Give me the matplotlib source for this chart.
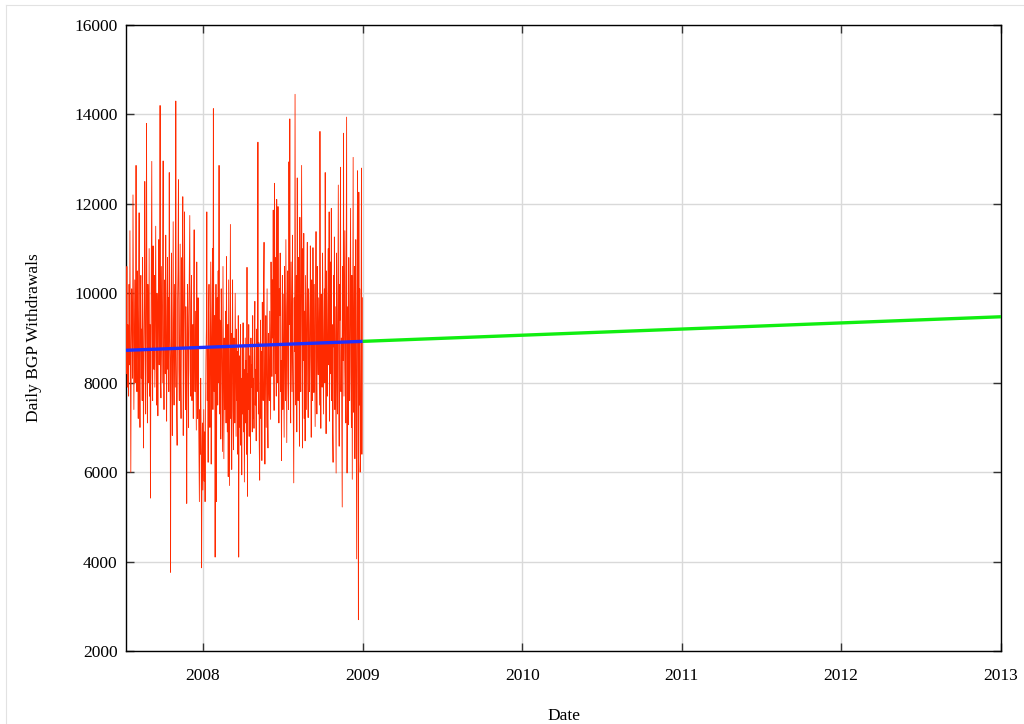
import matplotlib
matplotlib.use("Agg")
import matplotlib.pyplot as plt
from matplotlib.lines import Line2D
import pandas as pd

# Daily BGP withdrawal counts, one value per day starting 2007-07-09
start_date = "2007-07-09"
withdrawals = [
    9800, 8200, 10600, 7900, 9300, 8600, 7700,
    10200, 8400, 11400, 9000, 6000, 8800, 10100,
    9500, 8100, 12200, 9700, 7400, 8900, 10300,
    8000, 9400, 12860, 8700, 7800, 10500, 9100,
    7200, 9900, 11800, 8300, 7000, 9600, 10400,
    8100, 9200, 7600, 10800, 9000, 6540, 8500,
    9700, 12500, 8800, 7300, 9900, 13800, 8900,
    7100, 10200, 9400, 8000, 11000, 7700, 9300,
    5420, 8600, 10700, 12950, 8200, 7600, 11060,
    9100, 8300, 10400, 7900, 9600, 11500, 8700,
    7500, 10000, 8900, 7260, 9800, 11200, 8400,
    9300, 14200, 8100, 7660, 10600, 9200, 8000,
    10900, 12960, 8600, 7400, 9700, 10300, 8200,
    11300, 8800, 7140, 9500, 10800, 8300, 9900,
    7800, 12700, 9000, 8500, 3760, 9400, 10900,
    8100, 6820, 9200, 11600, 8700, 7500, 10200,
    9000, 7900, 14300, 8600, 7300, 6600, 9800,
    10500, 12540, 8300, 7600, 9600, 11100, 8000,
    7200, 9400, 10800, 8800, 12160, 6820, 9100,
    10300, 11820, 8400, 7400, 9700, 8200, 5300,
    8600, 10200, 9000, 7000, 9500, 10700, 11740,
    8300, 7700, 9800, 10400, 7600, 8700, 9300,
    7200, 10100, 11420, 8500, 7800, 9600, 8100,
    6940, 10700, 8400, 7200, 9900, 7600, 6500,
    5340, 7400, 6400, 8100, 6900, 3860, 6200,
    7100, 5600, 6500, 7400, 5800, 6900, 5340,
    7200, 8500, 9200, 11820, 7600, 8800, 6220,
    9600, 10200, 8300, 7000, 9100, 10700, 6180,
    8700, 9700, 11000, 7400, 14130, 8900, 7800,
    9500, 4100, 8200, 10200, 5340, 8600, 9900,
    7500, 10500, 8000, 12860, 7300, 9400, 8800,
    6740, 10100, 9200, 7800, 6460, 10600, 8500,
    6300, 9000, 7400, 8200, 9600, 7100, 10820,
    8100, 6900, 9300, 5900, 10300, 7700, 5700,
    8600, 11540, 7200, 9100, 6060, 8800, 10300,
    7400, 6500, 9000, 8400, 7100, 10000, 8300,
    6800, 9200, 7600, 8700, 6400, 9500, 4100,
    7900, 8600, 7000, 9300, 6600, 8100, 5940,
    8800, 7300, 9340, 6900, 8300, 5780, 7600,
    9000, 7100, 8500, 6400, 10580, 5460, 8200,
    7400, 9300, 6800, 8600, 7700, 6420, 9000,
    7900, 8400, 6900, 9500, 7200, 8100, 6980,
    9100, 9820, 7500, 8300, 6700, 9200, 7800,
    8600, 13380, 7300, 8900, 6600, 5820, 8000,
    9400, 7200, 8700, 6260, 9800, 8300, 7600,
    10200, 11140, 7900, 6180, 8800, 9500, 7000,
    8400, 10100, 7300, 6540, 9100, 8000, 7600,
    9600, 8500, 7180, 10700, 9200, 8140, 10300,
    9000, 11860, 8600, 7380, 12460, 9400, 8200,
    10800, 7700, 12100, 9100, 8000, 11940, 8700,
    7100, 10100, 9500, 10900, 7800, 8500, 6260,
    9200, 10400, 7400, 9980, 8300, 6780, 10600,
    8800, 7600, 11200, 9000, 6660, 9700, 10500,
    8100, 7400, 12940, 9300, 13900, 8000, 7100,
    10700, 9400, 7800, 11300, 8600, 7000, 5760,
    9900, 8700, 14450, 9100, 7500, 10400, 6900,
    12580, 8400, 7600, 10800, 9500, 6580, 11700,
    8900, 7800, 10200, 12860, 9000, 6540, 11000,
    8500, 11340, 7200, 9600, 6700, 10400, 8800,
    7400, 9900, 11140, 8200, 7220, 10100, 9300,
    7800, 8600, 11060, 9400, 6780, 10300, 8500,
    7600, 11020, 9100, 7780, 10200, 8400, 7020,
    9700, 11380, 8300, 7300, 10600, 9000, 8180,
    9900, 8600, 7500, 13620, 9200, 6980, 9980,
    8700, 7900, 10900, 9400, 7300, 8900, 10100,
    8000, 12700, 9300, 6860, 10500, 8600, 7700,
    9800, 11000, 8400, 11820, 7140, 9500, 10700,
    8200, 11900, 7600, 9300, 6900, 6220, 10400,
    8800, 11260, 7400, 9700, 8000, 5980, 10900,
    8600, 7300, 9900, 12420, 8100, 6580, 10200,
    9400, 12820, 7800, 9000, 7200, 5220, 10600,
    8500, 13580, 7700, 9600, 11400, 8300, 7100,
    10300, 13940, 5980, 8800, 9700, 7060, 10800,
    8400, 7600, 9900, 11900, 8200, 7000, 10400,
    5840, 9200, 13040, 7340, 8700, 10600, 6300,
    9500, 11200, 7800, 4060, 9800, 12740, 8400,
    2700, 12260, 7500, 10100, 6000, 6400, 9100,
    12800, 6400, 9900,
]

# Linear trend: fitted over the observed period, then projected forward
trend_fit_dates = ["2007-07-09", "2009-01-01"]
trend_fit_values = [8725, 8925]
trend_proj_dates = ["2009-01-01", "2013-01-01"]
trend_proj_values = [8925, 9475]

x_end = "2013-01-01"
year_ticks = ["2008-01-01", "2009-01-01", "2010-01-01",
              "2011-01-01", "2012-01-01", "2013-01-01"]
year_labels = ["2008", "2009", "2010", "2011", "2012", "2013"]
y_ticks = [2000, 4000, 6000, 8000, 10000, 12000, 14000, 16000]

plt.rcParams["font.family"] = ["Liberation Serif", "DejaVu Serif"]

dates = pd.date_range(start_date, periods=len(withdrawals), freq="D")

fig = plt.figure(figsize=(10.24, 7.24), dpi=100)
ax = fig.add_axes([126 / 1024, 1 - 651 / 724, 875 / 1024, 626 / 724])

ax.plot(dates, withdrawals, color="#ff2a00", lw=0.6, zorder=3)
ax.plot(pd.to_datetime(trend_fit_dates), trend_fit_values,
        color="#1f2fff", lw=2.4, zorder=4, solid_capstyle="butt")
ax.plot(pd.to_datetime(trend_proj_dates), trend_proj_values,
        color="#11ee11", lw=2.4, zorder=4, solid_capstyle="butt")

ax.set_xlim(pd.Timestamp(start_date), pd.Timestamp(x_end))
ax.set_ylim(y_ticks[0], y_ticks[-1])
ax.set_xticks(pd.to_datetime(year_ticks))
ax.set_xticklabels(year_labels)
ax.set_yticks(y_ticks)
ax.set_yticklabels([str(v) for v in y_ticks])

ax.grid(True, color="#d9d9d9", lw=1.0, zorder=0)
ax.set_axisbelow(True)
ax.tick_params(direction="in", length=6, width=1, color="#333333",
               top=True, right=True, labelsize=12.5)
ax.tick_params(axis="x", pad=12.5)
ax.tick_params(axis="y", pad=6)
for s in ax.spines.values():
    s.set_linewidth(1.0)
    s.set_color("black")

ax.set_xlabel("Date", fontsize=12.5, labelpad=17)
ax.set_ylabel("Daily BGP Withdrawals", fontsize=12.5, labelpad=23)

# thin frame lines along the top and left of the canvas
fig.add_artist(Line2D([6 / 1024, 1.0], [1 - 5 / 724, 1 - 5 / 724],
                      transform=fig.transFigure, color="#e2e2e2", lw=0.8))
fig.add_artist(Line2D([6 / 1024, 6 / 1024], [0.0, 1 - 5 / 724],
                      transform=fig.transFigure, color="#e2e2e2", lw=0.8))

fig.savefig("out.png", dpi=100, facecolor="white")
